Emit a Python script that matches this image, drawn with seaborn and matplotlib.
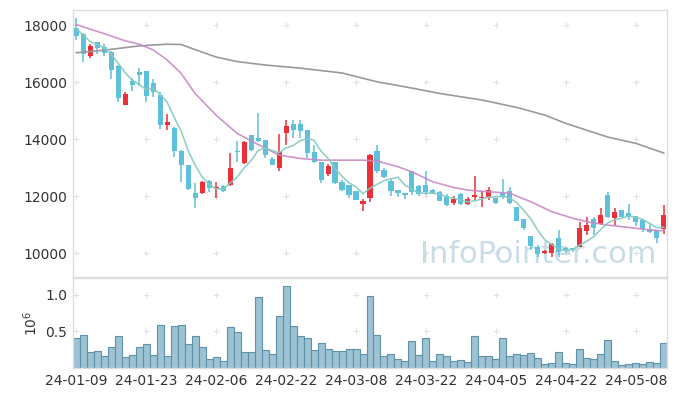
import numpy as np
import pandas as pd
import seaborn as sns
import matplotlib.pyplot as plt

# daily prices, 2024-01-09 .. 2024-05-14 (trading days only)
opens = [17890, 17690, 16920, 17390, 17240, 17040, 16560, 15190, 16040, 16350,
         16390, 15960, 15540, 14490, 14380, 13590, 13090, 12100, 12120, 12530,
         12240, 12350, 12390, 13590, 13150, 14140, 14030, 13970, 13290, 12990,
         14220, 14530, 14530, 14320, 13530, 13200, 12770, 13200, 12480, 12390,
         12180, 11730, 11920, 13580, 12910, 12530, 12210, 12110, 12880, 12360,
         12390, 12210, 12150, 12000, 11770, 12070, 11710, 11950, 11920, 11950,
         11940, 12100, 12190, 11600, 11180, 10600, 10200, 10010, 10010, 10520,
         10170, 10170, 10220, 10780, 11180, 11010, 12040, 11220, 11510, 11390,
         11300, 11160, 10830, 10810, 10830]
highs = [18240, 17710, 17320, 17420, 17320, 17090, 16600, 15640, 16130, 16500,
         16390, 16110, 15640, 14890, 14430, 13620, 13100, 12450, 12530, 12560,
         12500, 12390, 13500, 13940, 13930, 14140, 14900, 13970, 13370, 14170,
         14670, 14670, 14670, 14320, 13790, 13200, 13110, 13200, 12560, 12390,
         12180, 11880, 13460, 13790, 12970, 12640, 12210, 12110, 12880, 12390,
         12880, 12240, 12180, 12060, 12000, 12100, 11980, 12700, 12180, 12310,
         11940, 12590, 12310, 11600, 11180, 10600, 10280, 10100, 10340, 10810,
         10200, 10180, 11100, 11250, 11250, 11570, 12150, 11570, 11510, 11720,
         11300, 11180, 11060, 10810, 11680]
lows = [17470, 16710, 16850, 16970, 16920, 16110, 15290, 15190, 15690, 15850,
        15290, 15490, 14350, 14320, 13380, 12500, 12200, 11570, 12070, 12150,
        11920, 12150, 12350, 13200, 13120, 13590, 13910, 13320, 13090, 12880,
        13790, 14030, 14030, 13320, 13150, 12450, 12710, 12440, 12180, 11920,
        11860, 11470, 11800, 12820, 12620, 12010, 11950, 11880, 12040, 12000,
        12040, 12070, 11840, 11650, 11680, 11680, 11680, 11860, 11630, 11860,
        11720, 11900, 11720, 11130, 10810, 10110, 9870, 9970, 9870, 9870,
        10000, 10030, 10200, 10630, 10630, 10980, 11220, 10980, 11250, 11160,
        10950, 10750, 10690, 10360, 10670]
closes = [17630, 16970, 17260, 17180, 17010, 16420, 15450, 15580, 15900, 16250,
          15520, 15660, 14490, 14600, 13580, 13090, 12240, 11940, 12500, 12270,
          12330, 12190, 12970, 13540, 13910, 13610, 13940, 13440, 13090, 13530,
          14460, 14320, 14290, 13520, 13200, 12560, 13050, 12470, 12210, 12040,
          11860, 11830, 13440, 12880, 12680, 12190, 12120, 12040, 12150, 12070,
          12130, 12120, 11840, 11680, 11880, 11710, 11880, 12040, 11980, 12210,
          11740, 11980, 11740, 11130, 10870, 10250, 9970, 10080, 10320, 10050,
          10080, 10110, 10870, 10980, 10870, 11330, 11250, 11430, 11250, 11250,
          11100, 10840, 10750, 10520, 11330]
volumes = [414000, 455000, 221000, 234000, 166000, 290000, 441000, 152000, 179000, 290000,
           331000, 179000, 593000, 166000, 579000, 593000, 331000, 441000, 290000, 124000,
           152000, 97000, 566000, 497000, 221000, 221000, 966000, 248000, 193000, 717000,
           1117000, 579000, 441000, 414000, 248000, 345000, 262000, 234000, 234000, 262000,
           262000, 193000, 979000, 455000, 166000, 193000, 124000, 97000, 372000, 179000,
           414000, 97000, 193000, 166000, 97000, 110000, 83000, 441000, 166000, 166000,
           124000, 414000, 166000, 193000, 179000, 207000, 138000, 55000, 69000, 221000,
           69000, 55000, 262000, 138000, 124000, 193000, 386000, 97000, 41000, 55000,
           69000, 55000, 83000, 69000, 345000]

# 5-day MA: first four points (need earlier days)
ma5_head = [17880, 17650, 17420, 17320]

# 20-day and long MA at these candle positions
ma20_idx = [0, 4, 7, 9, 11, 13, 15, 17, 20, 23, 26, 29, 32, 35, 38, 41, 43, 46, 48,
            51, 54, 56, 59, 62, 65, 68, 71, 73, 76, 79, 82, 84]
ma20_vals = [18020, 17700, 17450, 17330, 17130, 16780, 16310, 15600, 14840, 14200,
             13810, 13440, 13320, 13260, 13260, 13260, 13230, 13030, 12850, 12500,
             12300, 12210, 12150, 12100, 11800, 11450, 11220, 11100, 10980, 10900,
             10810, 10780]
ma120_idx = [0, 4, 9, 13, 15, 17, 20, 23, 27, 32, 38, 43, 48, 52, 58, 63, 67, 70,
             76, 80, 84]
ma120_vals = [17030, 17120, 17270, 17330, 17320, 17140, 16880, 16720, 16600, 16490,
              16320, 16010, 15790, 15600, 15370, 15110, 14840, 14550, 14070, 13850,
              13510]

tick_pos = [0, 10, 20, 30, 40, 50, 60, 70, 80]
tick_labels = ['24-01-09', '24-01-23', '24-02-06', '24-02-22', '24-03-08',
               '24-03-22', '24-04-05', '24-04-22', '24-05-08']

df = pd.DataFrame({'open': opens, 'high': highs, 'low': lows, 'close': closes,
                   'volume': volumes})
df['idx'] = np.arange(len(df))
df['ma5'] = df['close'].rolling(5).mean()
df.loc[:3, 'ma5'] = ma5_head

sns.set_theme(style="white")
plt.rcParams['font.family'] = ['DejaVu Sans']

fig = plt.figure(figsize=(6.77, 3.96), dpi=100)
ax = fig.add_axes([73 / 677, 119 / 396, 594 / 677, 267 / 396])
axv = fig.add_axes([73 / 677, 28 / 396, 594 / 677, 90 / 396])

RED = '#ec3039'
BLUE = '#5fc0dc'
up = df['close'] >= df['open']
colors = np.where(up, RED, BLUE)

# grid of small crosses
for yv in [10000, 12000, 14000, 16000, 18000]:
    ax.plot(tick_pos, [yv] * len(tick_pos), ls='none', marker='+', ms=5,
            mew=0.8, color='#e2e2e2', zorder=0)
for yv in [0.5, 1.0]:
    axv.plot(tick_pos, [yv] * len(tick_pos), ls='none', marker='+', ms=5,
             mew=0.8, color='#e2e2e2', zorder=0)

# candles
ax.vlines(df['idx'], df['low'], df['high'], colors=colors, lw=1.1, zorder=2)
body_lo = np.minimum(df['open'], df['close'])
body_h = np.maximum((df['close'] - df['open']).abs(), 30)
ax.bar(df['idx'], body_h, bottom=body_lo, width=0.72, color=colors,
       linewidth=0, zorder=3)

# moving averages
sns.lineplot(x=ma120_idx, y=ma120_vals, ax=ax, color='#9a9a9a', lw=1.2, zorder=4)
sns.lineplot(x=ma20_idx, y=ma20_vals, ax=ax, color='#c98ac6', lw=1.2, alpha=0.9,
             zorder=4)
sns.lineplot(x=df['idx'], y=df['ma5'], ax=ax, color='#88cbc0', lw=1.2, alpha=0.9,
             zorder=4)

ax.text(0.783, 0.083, 'InfoPointer.com', transform=ax.transAxes, fontsize=22,
        color='#c9dde7', ha='center', va='center', zorder=1)

ax.set_xlim(-0.45, 84.45)
ax.set_ylim(9160, 18530)
ax.set_yticks([10000, 12000, 14000, 16000, 18000])
ax.set_xticks(tick_pos)
ax.set_xticklabels([])
ax.set_xlabel('')
ax.set_ylabel('')

# volume
sns.barplot(x=df['idx'], y=df['volume'] / 1e6, ax=axv, color='#9cc2d3',
            width=1.0, edgecolor='#5d92aa', linewidth=0.8, saturation=1)
axv.set_xlim(-0.45, 84.45)
axv.set_ylim(0, 1.23)
axv.set_yticks([0.5, 1.0])
axv.set_yticklabels(['0.5', '1.0'])
axv.set_xticks(tick_pos)
axv.set_xticklabels(tick_labels)
axv.set_xlabel('')
axv.set_ylabel(r'$10^{6}$', fontsize=10, color='#333333', labelpad=4)

for a in (ax, axv):
    for s in a.spines.values():
        s.set_color('#dddddd')
        s.set_linewidth(1)
    a.tick_params(axis='both', labelsize=10, colors='#333333', length=0, pad=4)

fig.savefig('out.png', dpi=100)
